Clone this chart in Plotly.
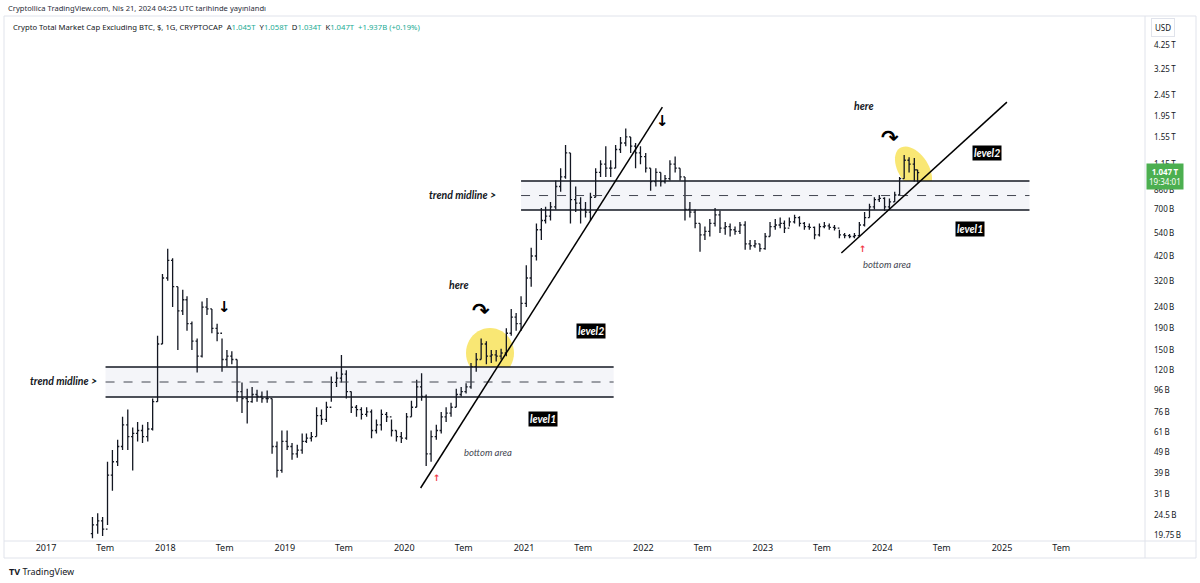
import math
import pandas as pd
import plotly.graph_objects as go

# semi-monthly bars, values in billions USD
close_2017 = [22, 23, 21, 38, 44, 52, 66, 58, 60, 62, 58, 63, 85, 160, 330]
high_2017 = [24, 25, 24, 44, 50, 56, 72, 78, 64, 68, 66, 68, 88, 175, 345]
low_2017 = [19, 20, 19.5, 22, 32, 42, 50, 50, 40, 55, 54, 55, 62, 85, 160]

close_2018 = [400, 300, 230, 260, 200, 165, 140, 240, 235, 190, 180, 135,
              140, 135, 95, 88, 85, 92, 90, 88, 88, 52, 40, 55]
high_2018 = [455, 410, 300, 290, 270, 205, 170, 255, 265, 235, 200, 170,
             150, 148, 135, 105, 98, 100, 97, 95, 96, 88, 55, 62]
low_2018 = [320, 240, 150, 220, 185, 150, 117, 138, 220, 180, 165, 118,
            125, 128, 85, 75, 67, 84, 85, 84, 84, 48, 37, 39]

close_2019 = [52, 48, 50, 55, 57, 58, 73, 70, 80, 105, 110, 115,
              95, 80, 78, 74, 76, 62, 66, 74, 72, 62, 58, 57]
high_2019 = [62, 54, 53, 60, 60, 61, 80, 78, 85, 112, 118, 142,
             120, 95, 82, 80, 80, 78, 70, 78, 76, 70, 62, 61]
low_2019 = [50, 45, 46, 48, 54, 55, 58, 66, 68, 85, 100, 105,
            88, 75, 72, 70, 72, 57, 60, 62, 68, 58, 55, 54]

close_2020 = [72, 80, 100, 90, 48, 58, 62, 72, 75, 80, 92, 95,
              100, 125, 135, 160, 140, 142, 140, 145, 180, 215, 200, 250]
high_2020 = [75, 86, 108, 116, 92, 62, 66, 76, 80, 84, 98, 100,
             104, 130, 145, 170, 165, 150, 150, 152, 190, 235, 225, 270]
low_2020 = [56, 72, 80, 86, 42, 44, 56, 60, 68, 72, 80, 90,
            93, 98, 118, 135, 128, 130, 132, 135, 140, 175, 185, 185]

close_2021 = [330, 420, 560, 620, 650, 720, 900, 1000, 1300, 780, 750, 700,
              680, 800, 1050, 1150, 1100, 1100, 1350, 1450, 1550, 1400, 1300, 1250]
high_2021 = [380, 460, 600, 710, 720, 760, 960, 1100, 1420, 1300, 900, 800,
             760, 840, 1100, 1200, 1400, 1200, 1420, 1550, 1700, 1550, 1450, 1400]
low_2021 = [240, 300, 400, 500, 600, 620, 700, 850, 980, 600, 680, 600,
            640, 620, 800, 1000, 1000, 1000, 1100, 1300, 1400, 1300, 1100, 1150]

close_2022 = [1100, 950, 1050, 950, 980, 1150, 1100, 1000, 700, 680, 600, 530,
              550, 600, 660, 570, 580, 560, 550, 590, 480, 470, 480, 455]
high_2022 = [1300, 1100, 1100, 1050, 1020, 1200, 1250, 1100, 1000, 760, 700, 600,
             580, 630, 710, 690, 610, 600, 580, 610, 615, 500, 500, 480]
low_2022 = [1050, 860, 900, 900, 930, 960, 1050, 960, 620, 640, 570, 440,
            500, 520, 580, 540, 530, 520, 530, 535, 450, 450, 460, 440]

close_2023 = [520, 580, 590, 600, 570, 610, 640, 600, 580, 575, 530, 580,
              585, 575, 570, 530, 525, 520, 525, 590, 640, 720, 780, 790]
high_2023 = [540, 610, 630, 640, 620, 640, 660, 650, 610, 600, 580, 600,
             610, 600, 590, 560, 540, 535, 540, 610, 680, 745, 800, 820]
low_2023 = [450, 520, 560, 570, 540, 580, 600, 580, 560, 560, 505, 520,
            570, 560, 555, 510, 510, 510, 510, 520, 580, 640, 700, 760]

close_2024 = [720, 760, 820, 980, 1200, 1150, 1080, 1047]
high_2024 = [800, 790, 850, 1000, 1270, 1240, 1230, 1080]
low_2024 = [690, 700, 760, 820, 980, 1050, 950, 940]

first_open = 20


def half_months(year, m0=1, m1=12):
    out = []
    for m in range(m0, m1 + 1):
        out += [f"{year}-{m:02d}-08", f"{year}-{m:02d}-23"]
    return out


dates = ["2017-05-23"] + half_months(2017, 6, 12)
for y in range(2018, 2024):
    dates += half_months(y)
dates += half_months(2024, 1, 3) + ["2024-04-08", "2024-04-18"]

closes = close_2017 + close_2018 + close_2019 + close_2020 + close_2021 + close_2022 + close_2023 + close_2024
highs = high_2017 + high_2018 + high_2019 + high_2020 + high_2021 + high_2022 + high_2023 + high_2024
lows = low_2017 + low_2018 + low_2019 + low_2020 + low_2021 + low_2022 + low_2023 + low_2024
opens = [first_open] + closes[:-1]

B = 1e9
closes = [v * B for v in closes]
highs = [v * B for v in highs]
lows = [v * B for v in lows]
opens = [v * B for v in opens]

# price scale ticks
ytick_vals = [4.25e12, 3.25e12, 2.45e12, 1.95e12, 1.55e12, 1.15e12, 860e9, 700e9,
              540e9, 420e9, 320e9, 240e9, 190e9, 150e9, 120e9, 96e9, 76e9, 61e9,
              49e9, 39e9, 31e9, 24.5e9, 19.75e9]
ytick_text = ["4.25\u2009T", "3.25\u2009T", "2.45\u2009T", "1.95\u2009T", "1.55\u2009T",
              "1.15\u2009T", "860\u2009B", "700\u2009B", "540\u2009B", "420\u2009B",
              "320\u2009B", "240\u2009B", "190\u2009B", "150\u2009B", "120\u2009B",
              "96\u2009B", "76\u2009B", "61\u2009B", "49\u2009B", "39\u2009B", "31\u2009B",
              "24.5\u2009B", "19.75\u2009B"]
xtick_vals = []
xtick_text = []
for y in range(2017, 2026):
    xtick_vals += [f"{y}-01-01", f"{y}-07-01"]
    xtick_text += [str(y), "Tem"]

# drawings: levels and trendlines
band_left = dict(x0="2017-07-02", x1="2021-10-02", lo=89.5e9, mid=105.5e9, hi=124.4e9)
band_right = dict(x0="2020-12-23", x1="2025-03-26", lo=695e9, mid=815e9, hi=956e9)
trend_left = (("2020-02-20", 33e9), ("2022-02-28", 2.15e12))
trend_right = (("2023-08-29", 434e9), ("2025-01-16", 2.27e12))

# plot area geometry (pixels)
L, R, T, BOT = 6, 1145, 17, 541
PX_PER_DAY = 119.5 / 365.25
PX_PER_DECADE = 210.0


def ppos(x, y):
    return (x - L) / (R - L), (BOT - y) / (BOT - T)


def ellipse_path(cx, cy, a, b, ang_deg, n=48):
    th = math.radians(ang_deg)
    pts = []
    for i in range(n):
        t = 2 * math.pi * i / n
        x = cx + a * math.cos(t) * math.cos(th) - b * math.sin(t) * math.sin(th)
        y = cy + a * math.cos(t) * math.sin(th) + b * math.sin(t) * math.cos(th)
        px_, py_ = ppos(x, y)
        pts.append(f"{px_:.5f},{py_:.5f}")
    return "M" + " L".join(pts) + " Z"


fig = go.Figure()

fig.add_trace(go.Ohlc(
    x=dates, open=opens, high=highs, low=lows, close=closes,
    increasing=dict(line=dict(color="#131722", width=1.3)),
    decreasing=dict(line=dict(color="#131722", width=1.3)),
    tickwidth=0.5, showlegend=False, hoverinfo="skip"))

shapes = []
for band in (band_left, band_right):
    shapes.append(dict(type="rect", xref="x", yref="y", x0=band["x0"], x1=band["x1"],
                       y0=band["lo"], y1=band["hi"], fillcolor="#f4f5f9", line=dict(width=0),
                       layer="below"))
# highlight circles
for cx, cy, a, b, ang in [(490, 353, 24, 25, 0), (913.5, 169, 25, 15, 57)]:
    shapes.append(dict(type="path", xref="paper", yref="paper",
                       path=ellipse_path(cx, cy, a, b, ang), fillcolor="#f9e774",
                       line=dict(width=0), layer="below"))
for band in (band_left, band_right):
    for key in ("lo", "hi"):
        shapes.append(dict(type="line", xref="x", yref="y", x0=band["x0"], x1=band["x1"],
                           y0=band[key], y1=band[key], line=dict(color="#131722", width=1.5)))
    shapes.append(dict(type="line", xref="x", yref="y", x0=band["x0"], x1=band["x1"],
                       y0=band["mid"], y1=band["mid"],
                       line=dict(color="#434651", width=1, dash="dash")))
for (d0, v0), (d1, v1) in (trend_left, trend_right):
    shapes.append(dict(type="line", xref="x", yref="y", x0=d0, x1=d1, y0=v0, y1=v1,
                       line=dict(color="#000000", width=1.5)))

# pane frame
fx0, fy0 = ppos(4, 558)
fx1, fy1 = ppos(1196, 16)
shapes.append(dict(type="rect", xref="paper", yref="paper", x0=fx0, x1=fx1, y0=fy0, y1=fy1,
                   line=dict(color="#e0e3eb", width=1)))
shapes.append(dict(type="line", xref="paper", yref="paper", x0=1, x1=1, y0=fy0, y1=fy1,
                   line=dict(color="#e0e3eb", width=1)))
shapes.append(dict(type="line", xref="paper", yref="paper", x0=fx0, x1=fx1, y0=0, y1=0,
                   line=dict(color="#e0e3eb", width=1)))

annotations = []


def note(x, y, text, size=9, color="#131722", xanchor="center", italic=False, bold=False,
         family="Lato", bg=None, pad=0, border=None):
    px_, py_ = ppos(x, y)
    a = dict(xref="paper", yref="paper", x=px_, y=py_, text=text, showarrow=False,
             xanchor=xanchor, yanchor="middle",
             font=dict(size=size, color=color, family=family,
                       style="italic" if italic else "normal",
                       weight="bold" if bold else "normal"),
             borderpad=pad)
    if bg:
        a["bgcolor"] = bg
    if border:
        a["bordercolor"] = border
        a["borderwidth"] = 1
    annotations.append(a)


note(7, 8, "Cryptollica TradingView.com, Nis 21, 2024 04:25 UTC tarihinde yayınlandı",
     size=7.6, color="#2a2e39", xanchor="left", family="Noto Sans")
g = "#22ab94"
legend_txt = ("Crypto Total Market Cap Excluding BTC, $, 1G, CRYPTOCAP\u00a0\u00a0"
              f"A<span style='color:{g}'>1.045T</span>\u00a0\u00a0"
              f"Y<span style='color:{g}'>1.058T</span>\u00a0\u00a0"
              f"D<span style='color:{g}'>1.034T</span>\u00a0\u00a0"
              f"K<span style='color:{g}'>1.047T</span>\u00a0\u00a0"
              f"<span style='color:{g}'>+1.937B (+0.19%)</span>")
note(12, 27, legend_txt, size=7.7, color="#131722", xanchor="left", family="Noto Sans")
note(1151, 28, "USD", size=8, color="#131722", xanchor="left", family="Noto Sans",
     pad=3, border="#e0e3eb")
note(1146, 177, "<b>1.047\u2009T</b><br>19:34:01", size=8, color="#ffffff", xanchor="left",
     family="Noto Sans", bg="#4caf50", pad=2)
note(8, 571, "<b>TV</b> TradingView", size=9, color="#131722", xanchor="left", family="Noto Sans")

# chart drawings text
for x, y in [(63, 381), (462, 195)]:
    note(x, y, "trend midline >", size=10.5, italic=True, bold=True)
for x, y in [(459, 285), (864, 106)]:
    note(x, y, "here", size=10.5, italic=True, bold=True)
for x, y in [(488, 453), (887, 264)]:
    note(x, y, "bottom area", size=9.5, italic=True, color="#434651")
for x, y in [(591, 331), (987, 153)]:
    note(x, y, "level2", size=10.5, italic=True, bold=True, color="#ffffff", bg="#000000", pad=1)
for x, y in [(543, 419), (970, 229)]:
    note(x, y, "level1", size=10.5, italic=True, bold=True, color="#ffffff", bg="#000000", pad=1)
for x, y in [(224, 307), (663, 121)]:
    note(x, y, "↓", size=15, bold=True, color="#000000", family="DejaVu Sans")
for x, y in [(481, 311), (890, 138)]:
    note(x, y, "↷", size=21, bold=True, color="#000000", family="DejaVu Sans")
for x, y in [(437, 478), (863, 249)]:
    note(x, y, "↑", size=9, bold=True, color="#f23645", family="DejaVu Sans")

log_lo = 3.628 + 9 - (BOT - 45) / PX_PER_DECADE
log_hi = 3.628 + 9 + (45 - T) / PX_PER_DECADE
d0 = pd.Timestamp("2017-01-01") - pd.Timedelta(days=(46 - L) / PX_PER_DAY)
d1 = pd.Timestamp("2017-01-01") + pd.Timedelta(days=(R - 46) / PX_PER_DAY)

fig.update_layout(
    width=1200, height=583,
    margin=dict(l=L, r=1200 - R, t=T, b=583 - BOT),
    plot_bgcolor="#ffffff", paper_bgcolor="#ffffff",
    shapes=shapes, annotations=annotations,
    xaxis=dict(type="date", range=[d0, d1], tickvals=xtick_vals, ticktext=xtick_text,
               showgrid=False, zeroline=False, showline=False, ticks="",
               rangeslider=dict(visible=False),
               tickfont=dict(size=9, color="#131722", family="Noto Sans")),
    yaxis=dict(type="log", range=[log_lo, log_hi], side="right", tickvals=ytick_vals,
               ticktext=ytick_text, showgrid=False, zeroline=False, showline=False,
               ticks="", ticklabelstandoff=8,
               tickfont=dict(size=8, color="#131722", family="Noto Sans")),
    showlegend=False,
)

fig.write_html("out.html", config={"displayModeBar": False},
               post_script="document.body.style.margin='0';")
